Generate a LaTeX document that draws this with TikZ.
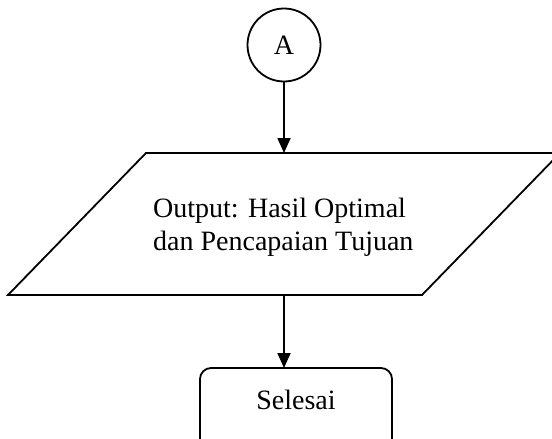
\documentclass[tikz,border=0pt]{standalone}
\usepackage{fontspec}
\setmainfont{Liberation Serif}
\usetikzlibrary{arrows.meta}
\tikzset{
  line/.style={line width=1.8pt, draw=black},
  conn/.style={line, -{Triangle[length=15pt,width=13pt]}},
  connector/.style={circle, line, fill=white, minimum size=73pt, inner sep=0pt, font=\fontsize{28}{33}\selectfont},
  io/.style={line, fill=white},
  txt/.style={font=\fontsize{28}{33}\selectfont, align=left, inner sep=0pt},
  terminal/.style={line, fill=white, rounded corners=11pt}
}
\begin{document}
\begin{tikzpicture}[x=1pt,y=-1pt]
  \useasboundingbox (0,0) rectangle (552,439);
  \clip (0,0) rectangle (552,439);
  \fill[white] (0,0) rectangle (552,439);
  % connector A
  \node[connector] (A) at (284,45) {A};
  % output parallelogram
  \draw[io] (146,153) -- (560,153) -- (422,295) -- (8,295) -- cycle;
  \coordinate (ptop) at (284,153);
  \coordinate (pbot) at (284,295);
  \node[txt, anchor=base west] (out) at (153,250) {Output: Hasil Optimal\\dan Pencapaian Tujuan};
  % terminal
  \draw[terminal] (200,368) rectangle (392,450);
  \coordinate (stop) at (284,368);
  \node[txt, anchor=base] (sel) at (296,409) {Selesai};
  % connectors
  \draw[conn] (A.south) -- (ptop);
  \draw[conn] (pbot) -- (stop);
\end{tikzpicture}
\end{document}
